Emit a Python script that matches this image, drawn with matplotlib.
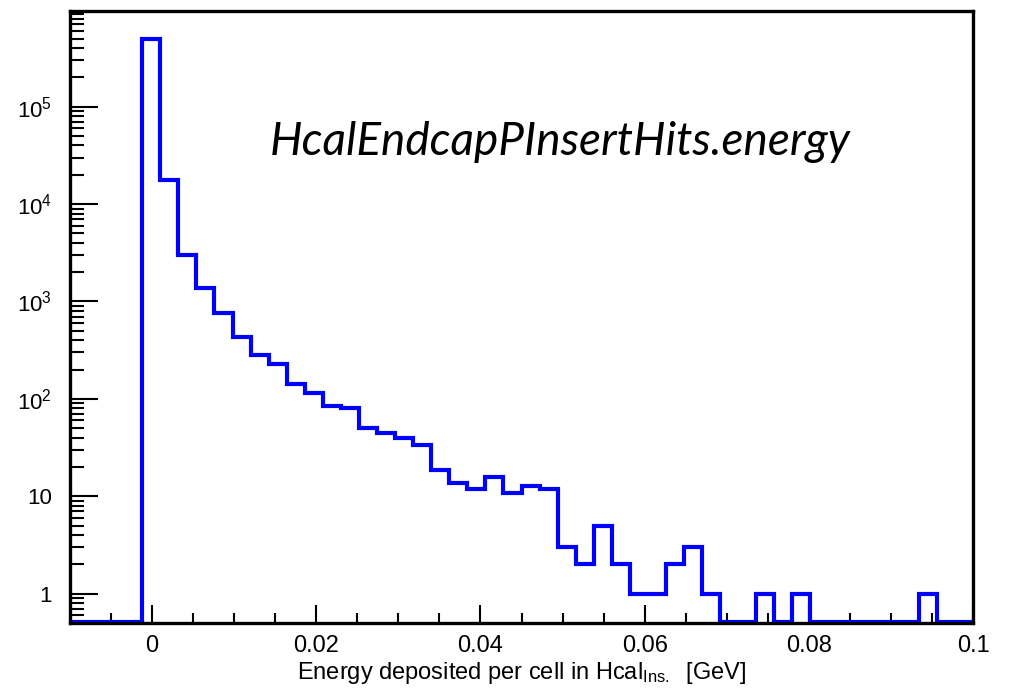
import numpy as np
import matplotlib
matplotlib.use("Agg")
import matplotlib.pyplot as plt
from matplotlib.ticker import FixedLocator, FuncFormatter, NullFormatter

### histogram data (50 bins from -0.01 to 0.1 GeV)
x_lo, x_hi, n_bins = -0.01, 0.1, 50
counts = [0, 0, 0, 0, 500000, 17700, 3030, 1364, 767, 430,
          281, 226, 141, 115, 84, 81, 50, 45, 40, 34,
          18.5, 13.7, 12, 15.7, 10.8, 12.7, 12, 3, 2, 5,
          2, 1, 1, 2, 3, 1, 0, 0, 1, 0,
          1, 0, 0, 0, 0, 0, 0, 1, 0, 0]
x_ticks = [0, 0.02, 0.04, 0.06, 0.08, 0.1]
x_ticklabels = ["0", "0.02", "0.04", "0.06", "0.08", "0.1"]
title_text = "HcalEndcapPInsertHits.energy"
xlabel_text = r"Energy deposited per cell in Hcal$_{\mathrm{Ins.}}$  [GeV]"
###---------------------------------------------------------------------

plt.rcParams.update({
    "font.family": ["Liberation Sans", "DejaVu Sans"],
    "mathtext.fontset": "custom",
    "mathtext.rm": "Liberation Sans",
    "mathtext.it": "Liberation Sans:italic",
})

y_lo, y_hi = 0.5, 9.6e5
edges = np.linspace(x_lo, x_hi, n_bins + 1)
vals = np.clip(np.array(counts, dtype=float), y_lo * 1.015, None)

fig = plt.figure(figsize=(10.2, 6.88), dpi=100)
ax = fig.add_axes([70 / 1020, 1 - 623 / 688, 903 / 1020, 612 / 688])

ax.stairs(vals, edges, baseline=None, color=(0, 0, 1), linewidth=3.0, zorder=2)

ax.set_yscale("log")
ax.set_xlim(x_lo, x_hi)
ax.set_ylim(y_lo, y_hi)

for side in ["top", "right", "bottom", "left"]:
    ax.spines[side].set_linewidth(2.4)
    ax.spines[side].set_zorder(3)

# x ticks
ax.xaxis.set_major_locator(FixedLocator(x_ticks))
ax.set_xticklabels(x_ticklabels)
ax.xaxis.set_minor_locator(FixedLocator(np.arange(-0.01, 0.1001, 0.005)))
ax.tick_params(axis="x", which="major", direction="in", length=13, width=1.5,
               labelsize=17, pad=9, top=False)
ax.tick_params(axis="x", which="minor", direction="in", length=7, width=1.5, top=False)

# y ticks
decades = [1, 10, 100, 1000, 10000, 100000]
minors = [m * d for d in [0.1] + decades for m in range(2, 10)]
ax.yaxis.set_major_locator(FixedLocator(decades))
ax.yaxis.set_minor_locator(FixedLocator(minors))
ax.yaxis.set_minor_formatter(NullFormatter())


def ylab(v, pos):
    if v < 50:
        return "%d" % v
    return r"$10^{%d}$" % round(np.log10(v))


ax.yaxis.set_major_formatter(FuncFormatter(ylab))
ax.tick_params(axis="y", which="major", direction="in", length=20, width=1.5,
               labelsize=16, pad=13, right=False)
ax.tick_params(axis="y", which="minor", direction="in", length=10, width=1.5, right=False)

ax.set_xlabel(xlabel_text, fontsize=17)
ax.xaxis.set_label_coords(0.5, -0.061)
ax.text(0.543, 0.786, title_text, transform=ax.transAxes, ha="center", va="center",
        fontsize=33, style="italic", family=["Lato", "DejaVu Sans"])

plt.savefig("out.png", dpi=100)
